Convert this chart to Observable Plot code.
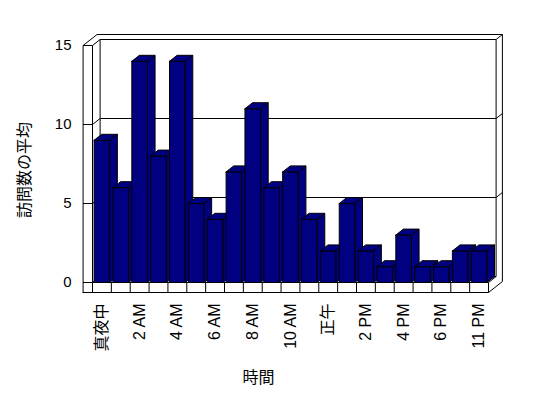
<!DOCTYPE html>
<html><head><meta charset="utf-8">
<script src="https://cdn.jsdelivr.net/npm/d3@7"></script>
<script src="https://cdn.jsdelivr.net/npm/@observablehq/plot@0.6"></script>
<style>
body{margin:0;background:#fff;}
#chart svg{display:block;}
</style></head><body><div id="chart"></div>
<script>
// ---- data ----
const hours = ["真夜中","1 AM","2 AM","3 AM","4 AM","5 AM","6 AM","7 AM","8 AM","9 AM","10 AM","11 AM",
               "正午","1 PM","2 PM","3 PM","4 PM","5 PM","6 PM","8 PM","11 PM"];
const visits = [9,6,14,8,14,5,4,7,11,6,7,4,2,5,2,1,3,1,1,2,2];
const labeledTicks = [0,2,4,6,8,10,12,14,16,18,20];
const yTicks = [0,5,10,15];
const xTitle = "時間";
const yTitle = "訪問数の平均";

// ---- layout ----
const W = 548, H = 398, mL = 92, mR = 60, mT = 45, mB = 116;
const yMax = 15;
const n = hours.length;
const xUnit = (W - mL - mR) / n, yUnit = (H - mT - mB) / yMax;
const ux = p => p / xUnit, uy = p => p / yUnit;
const xL = -0.5, xR = n - 0.5;
const dX = ux(7.6), dY = uy(6);     // depth
const tX = ux(6.3), tY = uy(5);     // back wall thickness
const wall = ux(9.4), floorT = uy(10), gap = ux(1.6);

// wall polygons
const polys = [];
function addPoly(id, pts){ pts.concat([pts[0]]).forEach(([x,y]) => polys.push({id, x, y})); }
addPoly("outer", [[xL-wall,-floorT],[xL-wall,yMax],[xL-wall+dX+tX,yMax+dY+tY],[xR+dX+tX,yMax+dY+tY],[xR+dX+tX,-floorT+dY+tY],[xR,-floorT]]);
addPoly("back", [[xL+dX,dY],[xL+dX,yMax+dY],[xR+dX,yMax+dY],[xR+dX,dY]]);

// lines
const links = [];
[5,10].forEach(v => links.push({x1:xL+dX,y1:v+dY,x2:xR+dX,y2:v+dY}));
yTicks.forEach(v => links.push({x1:xL,y1:v,x2:xL+dX,y2:v+dY}));
yTicks.forEach(v => links.push({x1:xL-wall,y1:v,x2:xL,y2:v}));
[5,10,15].forEach(v => links.push({x1:xR+dX,y1:v+dY,x2:xR+dX+tX,y2:v+dY+tY}));
links.push({x1:xL,y1:-floorT,x2:xL,y2:yMax});
links.push({x1:xL-wall,y1:0,x2:xR,y2:0});
links.push({x1:xR,y1:0,x2:xR,y2:-floorT});
links.push({x1:xR,y1:0,x2:xR+dX,y2:dY});
for (let k = 1; k < n; k++) links.push({x1:k-0.5,y1:0,x2:k-0.5,y2:-floorT});

// bars (front, top, side per bar, drawn left to right)
const barVerts = [];
visits.forEach((v, i) => {
  const x0 = i - 0.5 + gap, x1 = i + 0.5 - gap;
  const add = (face, pts) => pts.concat([pts[0]]).forEach(([x,y]) => barVerts.push({id: i + face, x, y}));
  add("f", [[x0,0],[x0,v],[x1,v],[x1,0]]);
  add("t", [[x0,v],[x1,v],[x1+dX,v+dY],[x0+dX,v+dY]]);
  add("s", [[x1,0],[x1,v],[x1+dX,v+dY],[x1+dX,dY]]);
});

const chart = Plot.plot({
  width: W, height: H,
  marginLeft: mL, marginRight: mR, marginTop: mT, marginBottom: mB,
  style: {fontFamily: "Arial, 'Liberation Sans', 'Noto Sans CJK JP', sans-serif", fontSize: "16px", background: "white", color: "black", overflow: "visible"},
  x: {type: "linear", domain: [xL, xR]},
  y: {type: "linear", domain: [0, yMax]},
  marks: [
    Plot.line(polys, {x: "x", y: "y", z: "id", fill: "white", stroke: "black", strokeWidth: 1}),
    Plot.link(links, {x1: "x1", y1: "y1", x2: "x2", y2: "y2", stroke: "black", strokeWidth: 1}),
    Plot.line(barVerts, {x: "x", y: "y", z: "id", fill: "#000080", stroke: "black", strokeWidth: 1}),
    Plot.axisY({ticks: yTicks, tickSize: 0, tickPadding: 21, label: null, fontSize: 15}),
    Plot.axisX({ticks: labeledTicks, tickFormat: i => hours[i], tickSize: 0, tickPadding: 21, tickRotate: -90, label: null, fontSize: 16}),
    Plot.text([yTitle], {frameAnchor: "left", textAnchor: "middle", lineAnchor: "middle", rotate: -90, dx: -68, dy: 6, fontSize: 16}),
    Plot.text([xTitle], {frameAnchor: "bottom", dx: -32, dy: 100, fontSize: 16})
  ]
});
document.getElementById("chart").appendChild(chart);
</script>
</body></html>
